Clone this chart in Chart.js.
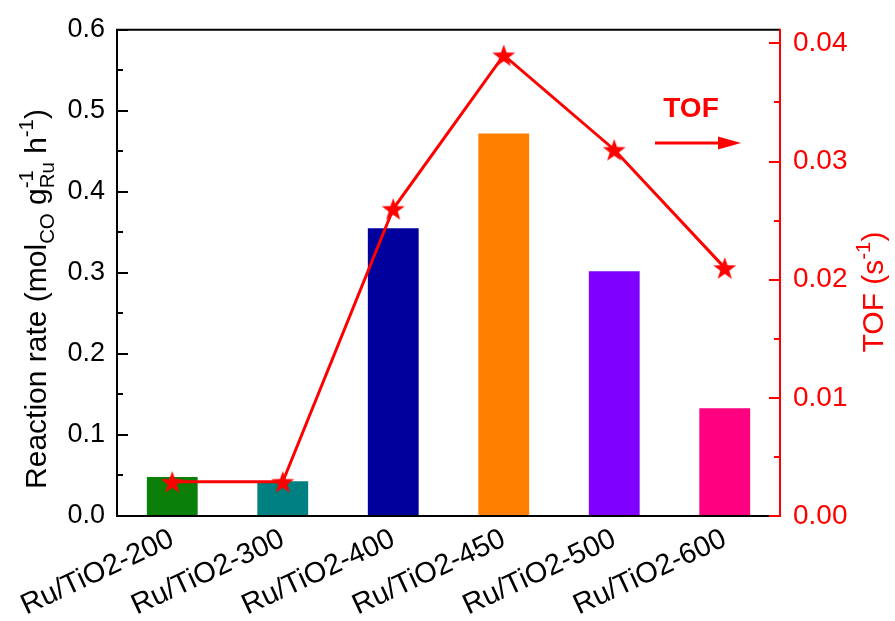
<!DOCTYPE html>
<html>
<head>
<meta charset="utf-8">
<script src="https://cdn.jsdelivr.net/npm/chart.js@4/dist/chart.umd.min.js"></script>
<style>
  html, body { margin: 0; padding: 0; background: #ffffff; }
  #wrap { width: 895px; height: 621px; position: relative; }
</style>
</head>
<body>
<div id="wrap"><canvas id="c" width="895" height="621"></canvas></div>
<script>
// Catalyst samples (calcination temperature)
const categories = ['Ru/TiO2-200', 'Ru/TiO2-300', 'Ru/TiO2-400', 'Ru/TiO2-450', 'Ru/TiO2-500', 'Ru/TiO2-600'];
// Reaction rate, mol_CO per g_Ru per hour
const reactionRate = [0.048, 0.043, 0.355, 0.472, 0.302, 0.133];
// Turnover frequency, s^-1
const tofValues = [0.0029, 0.0029, 0.026, 0.039, 0.031, 0.021];
const barColors = ['#0a800a', '#008080', '#00009c', '#ff8000', '#8000ff', '#ff0080'];
const leftTicks = [0, 0.1, 0.2, 0.3, 0.4, 0.5, 0.6];
const rightTicks = [0, 0.01, 0.02, 0.03, 0.04];

const FONT = '"Liberation Sans", Arial, sans-serif';
const RED = '#ff0000';

// filled five-point star used as the TOF marker
function makeStar(r, color) {
  const c = document.createElement('canvas');
  const s = Math.ceil(r * 2 + 2);
  c.width = s; c.height = s;
  const g = c.getContext('2d');
  const cx = s / 2, cy = s / 2 + r * 0.1, ri = r * 0.4;
  g.beginPath();
  for (let i = 0; i < 10; i++) {
    const rr = i % 2 === 0 ? r : ri;
    const a = -Math.PI / 2 + i * Math.PI / 5;
    const x = cx + rr * Math.cos(a), y = cy + rr * Math.sin(a);
    if (i === 0) g.moveTo(x, y); else g.lineTo(x, y);
  }
  g.closePath();
  g.fillStyle = color;
  g.fill();
  return c;
}
const starImg = makeStar(12, RED);

// draw text runs with sub/superscripts along the baseline
function richWidth(ctx, parts, base) {
  let w = 0;
  parts.forEach(p => {
    if (p.stack) {
      ctx.font = `${base * 0.68}px ${FONT}`;
      w += Math.max(ctx.measureText(p.sup).width, ctx.measureText(p.sub).width);
    } else {
      ctx.font = `${p.k ? base * 0.68 : base}px ${FONT}`;
      w += ctx.measureText(p.t).width;
    }
  });
  return w;
}
function drawRich(ctx, parts, base, x, y) {
  parts.forEach(p => {
    if (p.stack) {
      ctx.font = `${base * 0.68}px ${FONT}`;
      ctx.fillText(p.sup, x, y - base * 0.42);
      ctx.fillText(p.sub, x, y + base * 0.28);
      x += Math.max(ctx.measureText(p.sup).width, ctx.measureText(p.sub).width);
    } else {
      const small = !!p.k;
      ctx.font = `${small ? base * 0.68 : base}px ${FONT}`;
      const dy = p.k === 'sub' ? base * 0.28 : (p.k === 'sup' ? -base * 0.42 : 0);
      ctx.fillText(p.t, x, y + dy);
      x += ctx.measureText(p.t).width;
    }
  });
}

const decor = {
  id: 'decor',
  afterDraw(chart) {
    const ctx = chart.ctx;
    const a = chart.chartArea;
    const y = chart.scales.y, y1 = chart.scales.y1;
    ctx.save();
    // frame
    ctx.lineWidth = 2;
    ctx.strokeStyle = '#000';
    ctx.beginPath();
    ctx.moveTo(a.left, a.top); ctx.lineTo(a.right, a.top);
    ctx.moveTo(a.left, a.bottom); ctx.lineTo(a.right, a.bottom);
    ctx.moveTo(a.left, a.top - 1); ctx.lineTo(a.left, a.bottom + 1);
    ctx.stroke();
    ctx.strokeStyle = RED;
    ctx.beginPath();
    ctx.moveTo(a.right, a.top - 1); ctx.lineTo(a.right, a.bottom + 1);
    ctx.stroke();
    // inward ticks, left axis (major 0.1, minor 0.05)
    ctx.strokeStyle = '#000';
    ctx.beginPath();
    for (let v = 0; v <= 0.6001; v += 0.05) {
      const py = Math.round(y.getPixelForValue(v));
      const major = Math.abs(v / 0.1 - Math.round(v / 0.1)) < 1e-6;
      ctx.moveTo(a.left, py); ctx.lineTo(a.left + (major ? 11 : 6), py);
    }
    ctx.stroke();
    // inward ticks, right axis (major 0.01, minor 0.005)
    ctx.strokeStyle = RED;
    ctx.beginPath();
    for (let v = 0; v <= 0.04001; v += 0.005) {
      const py = Math.round(y1.getPixelForValue(v));
      const major = Math.abs(v / 0.01 - Math.round(v / 0.01)) < 1e-6;
      ctx.moveTo(a.right, py); ctx.lineTo(a.right - (major ? 11 : 6), py);
    }
    ctx.stroke();

    // left axis title
    const leftParts = [
      { t: 'Reaction rate (mol' }, { t: 'CO', k: 'sub' }, { t: ' g' },
      { stack: true, sup: '-1', sub: 'Ru' }, { t: ' h' }, { t: '-1', k: 'sup' }, { t: ')' }
    ];
    const base = 30;
    ctx.fillStyle = '#000';
    ctx.textBaseline = 'alphabetic';
    ctx.textAlign = 'left';
    const lw = richWidth(ctx, leftParts, base);
    ctx.save();
    ctx.translate(46, 299);
    ctx.rotate(-Math.PI / 2);
    drawRich(ctx, leftParts, base, -lw / 2, 0);
    ctx.restore();

    // right axis title
    const rightParts = [{ t: 'TOF (s' }, { t: '-1', k: 'sup' }, { t: ')' }];
    ctx.fillStyle = RED;
    const rw = richWidth(ctx, rightParts, base);
    ctx.save();
    ctx.translate(883, 292);
    ctx.rotate(-Math.PI / 2);
    drawRich(ctx, rightParts, base, -rw / 2, 0);
    ctx.restore();

    // series label with arrow towards the right axis
    ctx.fillStyle = RED;
    ctx.font = `bold 28px ${FONT}`;
    ctx.textAlign = 'center';
    ctx.fillText('TOF', 691, 117);
    ctx.strokeStyle = RED;
    ctx.lineWidth = 3;
    ctx.beginPath();
    ctx.moveTo(655, 143); ctx.lineTo(724, 143);
    ctx.stroke();
    ctx.beginPath();
    ctx.moveTo(741, 143); ctx.lineTo(718, 136.5); ctx.lineTo(718, 149.5);
    ctx.closePath();
    ctx.fill();
    ctx.restore();
  }
};

new Chart(document.getElementById('c'), {
  data: {
    labels: categories,
    datasets: [
      {
        type: 'line',
        data: tofValues,
        yAxisID: 'y1',
        borderColor: RED,
        borderWidth: 3,
        pointStyle: starImg,
        pointRadius: 12,
        order: 0
      },
      {
        type: 'bar',
        data: reactionRate,
        yAxisID: 'y',
        backgroundColor: barColors,
        barPercentage: 0.46,
        categoryPercentage: 1.0,
        order: 1
      }
    ]
  },
  options: {
    responsive: false,
    animation: false,
    layout: { padding: { top: 26, left: 0, right: 0, bottom: 0 } },
    plugins: { legend: { display: false }, tooltip: { enabled: false } },
    scales: {
      x: {
        grid: { display: false, drawTicks: false },
        border: { display: false },
        ticks: {
          color: '#000', font: { family: FONT, size: 29 },
          minRotation: 25, maxRotation: 25, padding: 6, autoSkip: false
        },
        afterFit(s) { s.height = 105; }
      },
      y: {
        position: 'left', min: 0, max: 0.6,
        grid: { display: false, drawTicks: false },
        border: { display: false },
        afterBuildTicks(s) { s.ticks = leftTicks.map(v => ({ value: v })); },
        ticks: {
          color: '#000', font: { family: FONT, size: 27 }, padding: 12,
          callback: v => Number(v).toFixed(1)
        },
        afterFit(s) { s.width = 117; }
      },
      y1: {
        position: 'right', min: 0, max: 0.04115,
        grid: { display: false, drawTicks: false },
        border: { display: false },
        afterBuildTicks(s) { s.ticks = rightTicks.map(v => ({ value: v })); },
        ticks: {
          color: RED, font: { family: FONT, size: 28 }, padding: 13,
          callback: v => Number(v).toFixed(2)
        },
        afterFit(s) { s.width = 115; }
      }
    }
  },
  plugins: [decor]
});
</script>
</body>
</html>
